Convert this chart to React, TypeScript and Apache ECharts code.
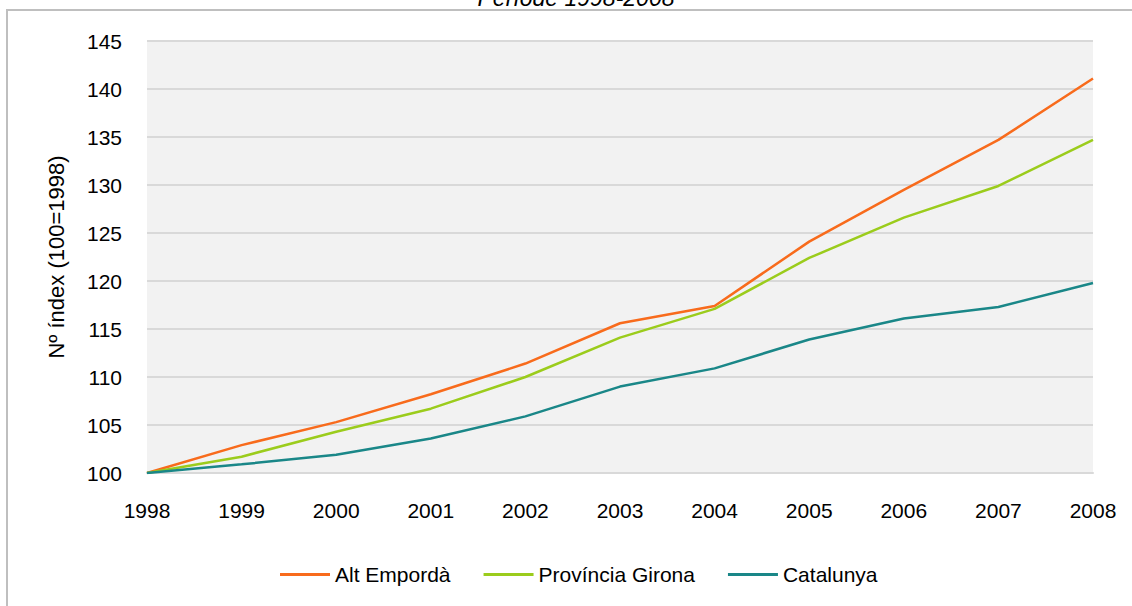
import React, { useEffect, useRef } from "react";
import * as echarts from "echarts";

const years = ["1998", "1999", "2000", "2001", "2002", "2003", "2004", "2005", "2006", "2007", "2008"];
const altEmporda = [100, 102.9, 105.3, 108.2, 111.4, 115.6, 117.4, 124.1, 129.5, 134.7, 141.1];
const provinciaGirona = [100, 101.7, 104.3, 106.7, 110.0, 114.1, 117.1, 122.4, 126.6, 129.9, 134.7];
const catalunya = [100, 100.9, 101.9, 103.6, 105.9, 109.0, 110.9, 113.9, 116.1, 117.3, 119.8];
const seriesNames = ["Alt Empordà", "Província Girona", "Catalunya"];
const seriesColors = ["#f86b1c", "#9bcc1c", "#1a8788"];

const FONT = "Liberation Sans, Arial, sans-serif";

export default function App() {
  const ref = useRef<HTMLDivElement>(null);
  useEffect(() => {
    if (!ref.current) return;
    const chart = echarts.init(ref.current, null, { renderer: "svg" });
    const data = [altEmporda, provinciaGirona, catalunya];
    chart.setOption({
      animation: false,
      backgroundColor: "#ffffff",
      title: {
        text: "Període 1998-2008",
        left: 571,
        top: -19,
        textAlign: "center",
        textStyle: { fontFamily: FONT, fontSize: 23, fontStyle: "italic", fontWeight: "normal", color: "#000" },
      },
      graphic: [
        {
          type: "rect",
          shape: { x: 7, y: 10, width: 1300, height: 800 },
          style: { fill: "none", stroke: "#bfbfbf", lineWidth: 2 },
          z: 100,
        },
      ],
      grid: {
        left: 147,
        right: 39,
        top: 41,
        bottom: 133,
        show: true,
        backgroundColor: "#f2f2f2",
        borderWidth: 0,
      },
      legend: {
        data: seriesNames,
        left: 275,
        top: 559,
        icon: "rect",
        itemWidth: 50,
        itemHeight: 3,
        itemGap: 33,
        textStyle: { fontFamily: FONT, fontSize: 21, color: "#000" },
      },
      xAxis: {
        type: "category",
        data: years,
        boundaryGap: false,
        axisLine: { show: true, lineStyle: { color: "#d9d9d9", width: 2 } },
        axisTick: { show: false },
        axisLabel: { fontFamily: FONT, fontSize: 21, color: "#000", margin: 27 },
        splitLine: { show: false },
      },
      yAxis: {
        type: "value",
        min: 100,
        max: 145,
        interval: 5,
        name: "Nº índex (100=1998)",
        nameLocation: "middle",
        nameGap: 80,
        nameRotate: 90,
        nameTextStyle: { fontFamily: FONT, fontSize: 22, color: "#000" },
        axisLine: { show: false },
        axisTick: { show: false },
        axisLabel: { fontFamily: FONT, fontSize: 21, color: "#000", margin: 25 },
        splitLine: { show: true, lineStyle: { color: "#d9d9d9", width: 2 } },
      },
      series: seriesNames.map((name, i) => ({
        name,
        type: "line",
        data: data[i],
        symbol: "none",
        color: seriesColors[i],
        lineStyle: { width: 2.5, color: seriesColors[i] },
      })),
    });
    return () => chart.dispose();
  }, []);
  return (
    <div
      ref={ref}
      style={{ position: "absolute", left: 0, top: 0, width: 1132, height: 606 }}
    />
  );
}
